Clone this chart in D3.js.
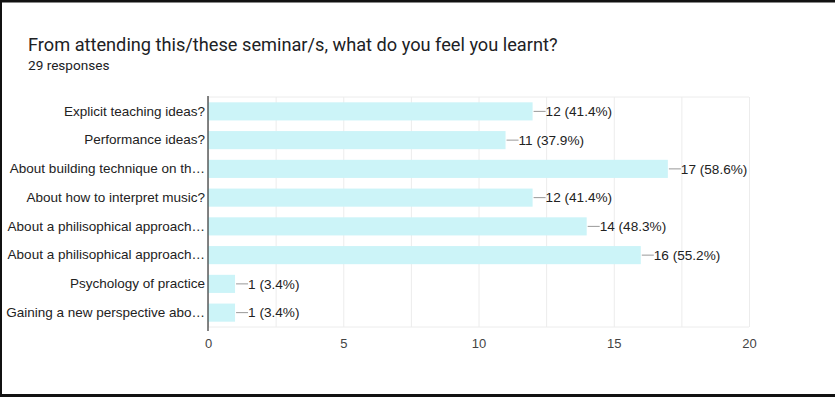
<!DOCTYPE html>
<html>
<head>
<meta charset="utf-8">
<script src="https://cdn.jsdelivr.net/npm/d3@7"></script>
<style>
  html, body { margin: 0; padding: 0; background: #fff; }
  svg { display: block; }
</style>
</head>
<body>
<svg id="chart" width="835" height="397"></svg>
<script>
const categories = [
    "Explicit teaching ideas?",
    "Performance ideas?",
    "About building technique on th\u2026",
    "About how to interpret music?",
    "About a philisophical approach\u2026",
    "About a philisophical approach\u2026 ",
    "Psychology of practice",
    "Gaining a new perspective abo\u2026"
];
const counts = [12, 11, 17, 12, 14, 16, 1, 1];
const percents = ["41.4%", "37.9%", "58.6%", "41.4%", "48.3%", "55.2%", "3.4%", "3.4%"];
const xTicks = [0, 5, 10, 15, 20];
const title = "From attending this/these seminar/s, what do you feel you learnt?";
const subtitle = "29 responses";

const svg = d3.select("svg#chart");
const width = +svg.attr("width");
const height = +svg.attr("height");
const margin = { top: 97, right: 86, bottom: 70, left: 208 };
const chartWidth = width - margin.left - margin.right;
const chartHeight = height - margin.top - margin.bottom;

// frame of the screenshot
svg.append("rect").attr("width", width).attr("height", height).attr("fill", "#fff");
svg.append("rect").attr("x", 0).attr("y", 0).attr("width", width).attr("height", 2.5).attr("fill", "#111");
svg.append("rect").attr("x", 0).attr("y", 0).attr("width", 2).attr("height", height).attr("fill", "#111");
svg.append("rect").attr("x", 0).attr("y", height - 3).attr("width", width).attr("height", 3).attr("fill", "#111");

svg.append("text")
    .attr("x", 28).attr("y", 51)
    .attr("font-family", "Roboto, sans-serif")
    .attr("font-size", 18.2)
    .attr("fill", "#202124")
    .text(title);
svg.append("text")
    .attr("x", 28).attr("y", 70)
    .attr("font-family", "Roboto, sans-serif")
    .attr("font-size", 13.6)
    .attr("fill", "#202124")
    .text(subtitle);

const chartArea = svg.append("g")
    .attr("transform", `translate(${margin.left},${margin.top})`);

let xScale = d3.scaleLinear().domain([0, 20]).range([0, chartWidth]);
let yScale = d3.scaleBand().domain(categories).range([0, chartHeight]).paddingInner(0.37).paddingOuter(0.185);

// gridlines every 2.5
let gridlines = d3.axisBottom(xScale)
    .tickValues(d3.range(0, 20.01, 2.5))
    .tickSize(chartHeight)
    .tickFormat("");
chartArea.append("g")
    .attr("class", "gridlines")
    .call(gridlines)
    .call(g => g.select(".domain").remove())
    .call(g => g.selectAll("line").attr("stroke", "#ececec"));
chartArea.append("line")
    .attr("x1", 0).attr("x2", chartWidth).attr("y1", 0).attr("y2", 0)
    .attr("stroke", "#ececec");
chartArea.append("line")
    .attr("x1", 0).attr("x2", chartWidth).attr("y1", chartHeight).attr("y2", chartHeight)
    .attr("stroke", "#ececec");

// bars
chartArea.selectAll("rect.bar").data(categories)
    .join("rect").attr("class", "bar")
    .attr("x", xScale(0))
    .attr("y", d => yScale(d))
    .attr("width", (d, i) => xScale(counts[i]) - xScale(0))
    .attr("height", yScale.bandwidth())
    .attr("fill", "#ccf4f8");

// value annotations
chartArea.selectAll("line.stem").data(categories)
    .join("line").attr("class", "stem")
    .attr("x1", (d, i) => xScale(counts[i]) + 1)
    .attr("x2", (d, i) => xScale(counts[i]) + 13)
    .attr("y1", d => yScale(d) + yScale.bandwidth() / 2)
    .attr("y2", d => yScale(d) + yScale.bandwidth() / 2)
    .attr("stroke", "#999")
    .attr("stroke-width", 1);
chartArea.selectAll("text.value").data(categories)
    .join("text").attr("class", "value")
    .attr("x", (d, i) => xScale(counts[i]) + 13)
    .attr("y", d => yScale(d) + yScale.bandwidth() / 2)
    .attr("dy", "0.35em")
    .attr("font-family", "Liberation Sans, Arial, sans-serif")
    .attr("font-size", 13.6)
    .attr("fill", "#222")
    .text((d, i) => `${counts[i]} (${percents[i]})`);

// left axis
let leftAxis = d3.axisLeft(yScale).tickSize(0).tickPadding(3);
chartArea.append("g")
    .attr("class", "y axis")
    .call(leftAxis)
    .call(g => g.select(".domain").remove())
    .call(g => g.selectAll("text")
        .attr("font-family", "Liberation Sans, Arial, sans-serif")
        .attr("font-size", 13.5)
        .attr("fill", "#222"));
chartArea.append("line")
    .attr("x1", 0).attr("x2", 0).attr("y1", -1).attr("y2", chartHeight + 4)
    .attr("stroke", "#333").attr("stroke-width", 1.2);

// bottom axis
let bottomAxis = d3.axisBottom(xScale).tickValues(xTicks).tickSize(0).tickPadding(12);
chartArea.append("g")
    .attr("class", "x axis")
    .attr("transform", `translate(0,${chartHeight})`)
    .call(bottomAxis)
    .call(g => g.select(".domain").remove())
    .call(g => g.selectAll("text")
        .attr("font-family", "Liberation Sans, Arial, sans-serif")
        .attr("font-size", 13)
        .attr("fill", "#444"));
</script>
</body>
</html>
